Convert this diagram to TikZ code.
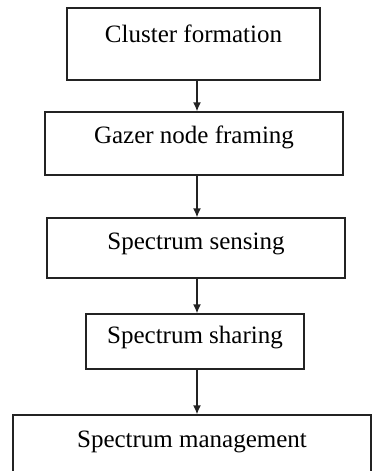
\documentclass[tikz,border=0pt]{standalone}
\usepackage{fontspec}
\setmainfont{Liberation Serif}
\usetikzlibrary{arrows.meta}
\definecolor{trazo}{RGB}{35,35,35}
\tikzset{>={Latex[length=9pt,width=8pt]},
  caja/.style={draw=trazo, line width=1.3pt, inner sep=0pt, anchor=base, font=\fontsize{25}{30}\selectfont},
  flecha/.style={->, line width=1.4pt, trazo}}

\begin{document}
\begin{tikzpicture}[x=1pt,y=1pt]
    \useasboundingbox (0,0) rectangle (373,-471);
    \clip (0,0) rectangle (373,-471);

    % the five stages, top to bottom
    \node[caja, minimum width=253pt, text height=34pt, text depth=38pt] (cluster) at (193.5,-42) {Cluster formation};
    \node[caja, minimum width=298pt, text height=31pt, text depth=32pt] (gazer) at (194,-143) {Gazer node framing};
    \node[caja, minimum width=298pt, text height=31pt, text depth=29pt] (sensing) at (196,-249) {Spectrum sensing};
    \node[caja, minimum width=218pt, text height=29pt, text depth=26pt] (sharing) at (195,-343) {Spectrum sharing};
    \node[caja, minimum width=358pt, text height=32pt, text depth=40pt] (management) at (192,-447) {Spectrum management};

    % arrows all run down the same vertical line
    \coordinate (eje) at (197,0);
    \draw[flecha] (cluster.south -| eje) -- (gazer.north -| eje);
    \draw[flecha] (gazer.south -| eje) -- (sensing.north -| eje);
    \draw[flecha] (sensing.south -| eje) -- (sharing.north -| eje);
    \draw[flecha] (sharing.south -| eje) -- (management.north -| eje);
\end{tikzpicture}
\end{document}
